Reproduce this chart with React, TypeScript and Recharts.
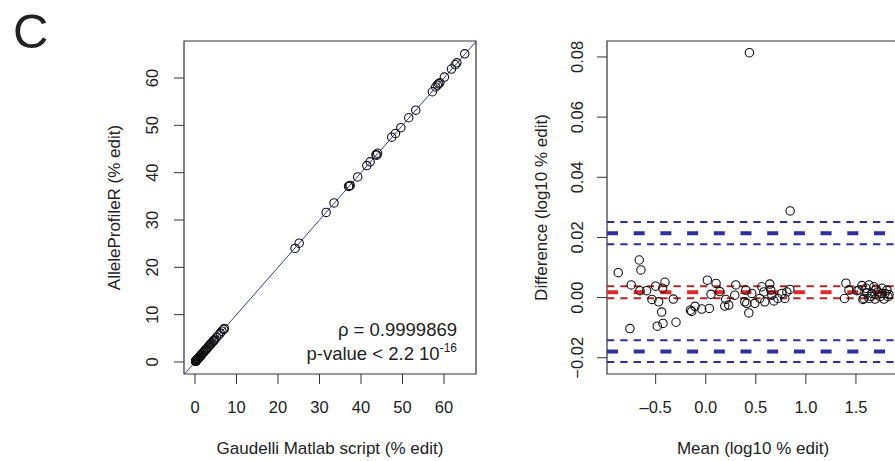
import React from "react";
import { ScatterChart, Scatter, XAxis, YAxis, ReferenceLine, ReferenceArea } from "recharts";

// panel C left: Gaudelli Matlab script vs AlleleProfileR (% edit)
const smallEdits: [number, number][] = [
  [0.13, 0.13], [0.17, 0.17], [0.18, 0.18], [0.2, 0.2], [0.22, 0.22], [0.23, 0.23],
  [0.26, 0.26], [0.3, 0.3], [0.32, 0.32], [0.35, 0.35], [0.37, 0.37], [0.38, 0.38],
  [0.4, 0.4], [0.48, 0.48], [0.5, 0.5], [0.57, 0.57], [0.7, 0.7], [0.72, 0.72],
  [0.78, 0.78], [0.93, 0.93], [1.0, 1.0], [1.04, 1.04], [1.1, 1.1], [1.15, 1.15],
  [1.25, 1.25], [1.3, 1.3], [1.4, 1.4], [1.55, 1.55], [1.6, 1.6], [1.7, 1.7],
  [2.0, 2.0], [2.05, 2.05], [2.2, 2.2], [2.5, 2.5], [2.6, 2.6], [2.75, 2.75],
  [2.9, 2.9], [3.1, 3.1], [3.4, 3.4], [3.6, 3.6], [3.7, 3.7], [3.85, 3.85],
  [4.1, 4.1], [4.4, 4.4], [4.5, 4.5], [4.6, 4.6], [4.8, 4.8], [5.2, 5.2],
  [5.7, 5.7], [6.1, 6.1], [6.5, 6.5], [6.9, 6.9], [7.1, 7.1],
];

const largeEdits: [number, number][] = [
  [24.1, 24.0], [25.1, 25.1], [31.6, 31.6], [33.5, 33.6], [37.0, 37.1], [37.2, 37.2],
  [37.4, 37.3], [39.2, 39.1], [41.4, 41.5], [42.2, 42.3], [43.6, 43.8], [43.8, 43.7],
  [44.0, 44.1], [47.4, 47.5], [48.3, 48.3], [49.6, 49.5], [51.5, 51.6], [53.2, 53.2],
  [57.2, 57.1], [58.0, 58.1], [58.4, 58.5], [58.7, 58.8], [59.0, 59.0], [60.1, 60.2],
  [61.8, 61.9], [62.7, 62.8], [63.1, 63.2], [65.0, 65.1],
];

const editTicks = [0, 10, 20, 30, 40, 50, 60];

// panel C right: Bland-Altman, mean vs difference (log10 % edit)
const blandAltman: [number, number][] = [
  [-0.874, 0.0083], [-0.757, -0.0103], [-0.744, 0.0042], [-0.664, 0.0125], [-0.657, 0.0023],
  [-0.647, 0.0092], [-0.59, 0.0023], [-0.537, -0.0006], [-0.5, 0.0038], [-0.484, -0.0095],
  [-0.47, -0.0014], [-0.44, -0.0048], [-0.43, 0.0031], [-0.427, -0.0086], [-0.407, 0.0051],
  [-0.324, -0.0005], [-0.297, -0.0082], [-0.153, -0.0042], [-0.14, -0.0046], [-0.107, -0.0029],
  [-0.04, -0.0038], [0.016, 0.0058], [0.036, -0.0036], [0.053, 0.0011], [0.103, 0.0047],
  [0.14, 0.002], [0.2, -0.0006], [0.19, -0.0028], [0.23, -0.0025], [0.3, 0.0042],
  [0.29, 0.0008], [0.39, -0.0014], [0.41, -0.0019], [0.43, -0.0051], [0.46, 0.0014],
  [0.4, 0.0025], [0.49, -0.0019], [0.54, -0.0003], [0.56, 0.0036], [0.58, 0.0019],
  [0.59, -0.0014], [0.64, 0.0045], [0.65, 0.0025], [0.66, 0.0008], [0.68, -0.0011],
  [0.72, -0.0003], [0.76, 0.0014], [0.79, -0.0003], [0.81, 0.0019], [0.84, 0.0027],
  [0.436, 0.0814], [0.843, 0.0288],
  [1.386, -0.0003], [1.4, 0.0048], [1.43, 0.0025], [1.51, 0.0023], [1.53, 0.0025],
  [1.56, 0.004], [1.57, -0.0006], [1.58, -0.0003], [1.6, 0.0031], [1.61, 0.0015],
  [1.63, 0.0042], [1.63, -0.0003], [1.65, 0.0004], [1.66, 0.0014], [1.68, 0.0036],
  [1.69, -0.0005], [1.7, 0.0028], [1.72, 0.0019], [1.74, 0.0003], [1.76, 0.0031],
  [1.76, 0.0014], [1.78, -0.0005], [1.79, 0.0014], [1.81, 0.0025], [1.82, 0.0003],
  [1.83, 0.001],
];

const meanBias = 0.0018;
const biasCI = [-0.0002, 0.0038];
const upperLoA = 0.0214;
const upperLoACI = [0.0177, 0.0251];
const lowerLoA = -0.0179;
const lowerLoACI = [-0.0214, -0.0142];

const meanTicks = [-0.5, 0, 0.5, 1, 1.5];
const diffTicks = [-0.02, 0, 0.02, 0.04, 0.06, 0.08];

const FONT = "'Liberation Sans', Arial, Helvetica, sans-serif";
const INK = "#222";
const BLUE = "#2e2e9c";
const RED = "#e2282b";
const DARK_RED = "#a8282b";

const toPoints = (rows: [number, number][]) => rows.map(([x, y]) => ({ x, y }));

const OpenCircle = (props: any) => (
  <circle cx={props.cx} cy={props.cy} r={4.2} fill="none" stroke="#111" strokeWidth={1.1} />
);

const makeXTick = (fmt: (v: number) => string) => (props: any) => (
  <text x={props.x} y={props.y + 27} textAnchor="middle" fontSize={16.5} fontFamily={FONT} fill={INK}>
    {fmt(props.payload.value)}
  </text>
);

const makeYTick = (fmt: (v: number) => string, shift: number) => (props: any) => (
  <text
    transform={`translate(${props.x - shift},${props.y}) rotate(-90)`}
    textAnchor="middle"
    dy="0.35em"
    fontSize={16.5}
    fontFamily={FONT}
    fill={INK}
  >
    {fmt(props.payload.value)}
  </text>
);

const fmtSigned = (v: number, digits: number) =>
  v < 0 ? "\u2212" + Math.abs(v).toFixed(digits) : v.toFixed(digits);

const xTitle = (text: string) => (props: any) => {
  const vb = props.viewBox;
  return (
    <text x={vb.x + vb.width / 2} y={vb.y + 80} textAnchor="middle" fontSize={17} fontFamily={FONT} fill={INK}>
      {text}
    </text>
  );
};

const yTitle = (text: string, cx: number) => (props: any) => {
  const vb = props.viewBox;
  const cy = vb.y + vb.height / 2;
  return (
    <text
      transform={`translate(${cx},${cy}) rotate(-90)`}
      textAnchor="middle"
      dy="0.35em"
      fontSize={17}
      fontFamily={FONT}
      fill={INK}
    >
      {text}
    </text>
  );
};

const L_X: [number, number] = [-2.65, 67.71];
const L_Y: [number, number] = [-2.54, 67.82];
const R_X: [number, number] = [-0.986, 1.93];
const R_Y: [number, number] = [-0.0254, 0.0853];

const thick = "11 15.7";
const thin = "7.3 6";

export default function App() {
  return (
    <div
      style={{
        position: "absolute",
        left: 0,
        top: 0,
        width: 895,
        height: 461,
        overflow: "hidden",
        background: "#fff",
      }}
    >
      <div style={{ position: "absolute", left: 0, top: 0 }}>
        <ScatterChart width={500} height={461} margin={{ top: 41, right: 24, bottom: 0, left: 0 }}>
          <XAxis
            type="number"
            dataKey="x"
            domain={L_X}
            allowDataOverflow
            ticks={editTicks}
            interval={0}
            axisLine={false}
            tickSize={10}
            tickLine={{ stroke: "#333" }}
            tick={makeXTick((v) => String(v))}
            height={87}
            label={xTitle("Gaudelli Matlab script (% edit)")}
          />
          <YAxis
            type="number"
            dataKey="y"
            domain={L_Y}
            allowDataOverflow
            ticks={editTicks}
            interval={0}
            axisLine={false}
            tickSize={10}
            tickLine={{ stroke: "#333" }}
            tick={makeYTick((v) => String(v), 20)}
            width={184}
            label={yTitle("AlleleProfileR (% edit)", 114)}
          />
          <ReferenceArea
            x1={L_X[0]}
            x2={L_X[1]}
            y1={L_Y[0]}
            y2={L_Y[1]}
            fill="none"
            fillOpacity={0}
            stroke="#333"
            strokeWidth={1.2}
            ifOverflow="visible"
          />
          <ReferenceLine
            segment={[
              { x: L_Y[0], y: L_Y[0] },
              { x: L_X[1], y: L_X[1] },
            ]}
            stroke="#3b3ba0"
            strokeWidth={1}
            ifOverflow="visible"
          />
          <Scatter data={toPoints(smallEdits)} shape={OpenCircle} isAnimationActive={false} />
          <Scatter data={toPoints(largeEdits)} shape={OpenCircle} isAnimationActive={false} />
        </ScatterChart>
      </div>

      <div style={{ position: "absolute", left: 520, top: 0 }}>
        <ScatterChart width={410} height={461} margin={{ top: 41, right: 31, bottom: 0, left: 0 }}>
          <XAxis
            type="number"
            dataKey="x"
            domain={R_X}
            allowDataOverflow
            ticks={meanTicks}
            interval={0}
            axisLine={false}
            tickSize={10}
            tickLine={{ stroke: "#333" }}
            tick={makeXTick((v) => (v < 0 ? "\u2013" + Math.abs(v).toFixed(1) : v.toFixed(1)))}
            height={87}
            label={xTitle("Mean (log10 % edit)")}
          />
          <YAxis
            type="number"
            dataKey="y"
            domain={R_Y}
            allowDataOverflow
            ticks={diffTicks}
            interval={0}
            axisLine={false}
            tickSize={10}
            tickLine={{ stroke: "#333" }}
            tick={makeYTick((v) => fmtSigned(v, 2), 18)}
            width={87}
            label={yTitle("Difference (log10 % edit)", 21)}
          />
          <ReferenceArea
            x1={R_X[0]}
            x2={R_X[1]}
            y1={R_Y[0]}
            y2={R_Y[1]}
            fill="none"
            fillOpacity={0}
            stroke="#333"
            strokeWidth={1.2}
            ifOverflow="visible"
          />
          {upperLoACI.map((v) => (
            <ReferenceLine key={"u" + v} y={v} stroke={BLUE} strokeWidth={2} strokeDasharray={thin} />
          ))}
          <ReferenceLine y={upperLoA} stroke={BLUE} strokeWidth={4} strokeDasharray={thick} />
          {lowerLoACI.map((v) => (
            <ReferenceLine key={"l" + v} y={v} stroke={BLUE} strokeWidth={2} strokeDasharray={thin} />
          ))}
          <ReferenceLine y={lowerLoA} stroke={BLUE} strokeWidth={4} strokeDasharray={thick} />
          {biasCI.map((v) => (
            <ReferenceLine key={"b" + v} y={v} stroke={DARK_RED} strokeWidth={2} strokeDasharray={thin} />
          ))}
          <ReferenceLine y={meanBias} stroke={RED} strokeWidth={4} strokeDasharray={thick} />
          <Scatter data={toPoints(blandAltman)} shape={OpenCircle} isAnimationActive={false} />
        </ScatterChart>
      </div>

      <svg
        width={895}
        height={461}
        style={{ position: "absolute", left: 0, top: 0, pointerEvents: "none" }}
      >
        <text x={13} y={48} fontSize={49} fontFamily={FONT} fill={INK}>
          C
        </text>
        <text x={457} y={336} textAnchor="end" fontSize={18.5} fontFamily={FONT} fill={INK}>
          ρ = 0.9999869
        </text>
        <text x={457} y={360} textAnchor="end" fontSize={18.5} fontFamily={FONT} fill={INK}>
          p-value &lt; 2.2 10
          <tspan dy={-8} fontSize={12}>
            -16
          </tspan>
        </text>
      </svg>
    </div>
  );
}
